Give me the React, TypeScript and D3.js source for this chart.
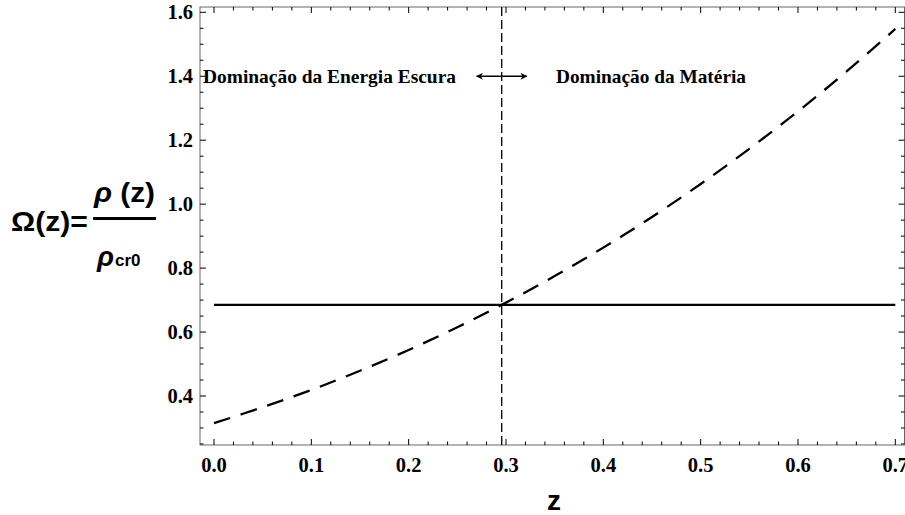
import React from "react";
import * as d3 from "d3";

const zValues = [0, 0.05, 0.1, 0.15, 0.2, 0.25, 0.3, 0.35, 0.4, 0.45, 0.5, 0.55, 0.6, 0.65, 0.7];
const matterOmega = [0.315, 0.365, 0.419, 0.479, 0.544, 0.615, 0.692, 0.775, 0.864, 0.96, 1.063, 1.173, 1.29, 1.415, 1.548];
const darkEnergyZ = [0, 0.7];
const darkEnergyOmega = [0.685, 0.685];
const crossingZ = 0.2956;
const xTicks = [0, 0.1, 0.2, 0.3, 0.4, 0.5, 0.6, 0.7];
const xTickLabels = ["0.0", "0.1", "0.2", "0.3", "0.4", "0.5", "0.6", "0.7"];
const yTicks = [0.4, 0.6, 0.8, 1.0, 1.2, 1.4, 1.6];
const yTickLabels = ["0.4", "0.6", "0.8", "1.0", "1.2", "1.4", "1.6"];
const annotationY = 1.4;
const leftLabel = "Dominação da Energia Escura";
const rightLabel = "Dominação da Matéria";

const W = 905;
const H = 515;
const frame = { left: 200, right: 904.5, top: 7, bottom: 445 };

export default function App() {
  const x = d3.scaleLinear().domain([0, 0.7]).range([214, 895.3]);
  const y = d3.scaleLinear().domain([0.4, 1.6]).range([396, 12.3]);

  const matterLine = d3
    .line<number>()
    .x((_, i) => x(zValues[i]))
    .y((d) => y(d))
    .curve(d3.curveCatmullRom)(matterOmega) as string;

  const deLine = d3
    .line<number>()
    .x((_, i) => x(darkEnergyZ[i]))
    .y((d) => y(d))(darkEnergyOmega) as string;

  const xMinor = d3.range(0, 0.7001, 0.02).map((v) => +v.toFixed(2)).filter((v) => !xTicks.some((t) => Math.abs(t - v) < 1e-6));
  const yMinor = d3.range(0.25, 1.6001, 0.05).map((v) => +v.toFixed(2)).filter((v) => !yTicks.some((t) => Math.abs(t - v) < 1e-6));

  const frameColor = "#666";
  const serif = "'Liberation Serif', 'Times New Roman', serif";
  const sans = "'Liberation Sans', Arial, sans-serif";
  const cx = x(crossingZ);
  const ay = y(annotationY);

  return (
    <svg width={W} height={H} style={{ position: "absolute", left: 0, top: 0, background: "#fff" }}>
      <defs>
        <marker id="ah" viewBox="0 0 10 10" refX="9" refY="5" markerWidth="10" markerHeight="7" markerUnits="userSpaceOnUse" orient="auto-start-reverse">
          <path d="M0,0 L10,5 L0,10 L3,5 Z" fill="#000" />
        </marker>
      </defs>
      <rect x={frame.left} y={frame.top} width={frame.right - frame.left} height={frame.bottom - frame.top} fill="none" stroke={frameColor} strokeWidth={1} />
      {xTicks.map((t) => (
        <g key={"xt" + t}>
          <line x1={x(t)} x2={x(t)} y1={frame.bottom} y2={frame.bottom - 6} stroke="#000" strokeWidth={1} />
          <line x1={x(t)} x2={x(t)} y1={frame.top} y2={frame.top + 6} stroke="#000" strokeWidth={1} />
        </g>
      ))}
      {xMinor.map((t) => (
        <g key={"xm" + t}>
          <line x1={x(t)} x2={x(t)} y1={frame.bottom} y2={frame.bottom - 3.5} stroke="#000" strokeWidth={1} />
          <line x1={x(t)} x2={x(t)} y1={frame.top} y2={frame.top + 3.5} stroke="#000" strokeWidth={1} />
        </g>
      ))}
      {yTicks.map((t) => (
        <g key={"yt" + t}>
          <line x1={frame.left} x2={frame.left + 6} y1={y(t)} y2={y(t)} stroke="#000" strokeWidth={1} />
          <line x1={frame.right} x2={frame.right - 6} y1={y(t)} y2={y(t)} stroke="#000" strokeWidth={1} />
        </g>
      ))}
      {yMinor.map((t) => (
        <g key={"ym" + t}>
          <line x1={frame.left} x2={frame.left + 3.5} y1={y(t)} y2={y(t)} stroke="#000" strokeWidth={1} />
          <line x1={frame.right} x2={frame.right - 3.5} y1={y(t)} y2={y(t)} stroke="#000" strokeWidth={1} />
        </g>
      ))}
      {xTicks.map((t, i) => (
        <text key={"xl" + t} x={x(t)} y={472} textAnchor="middle" fontFamily={serif} fontWeight="bold" fontSize={20.5}>
          {xTickLabels[i]}
        </text>
      ))}
      {yTicks.map((t, i) => (
        <text key={"yl" + t} x={193} y={y(t) + 7} textAnchor="end" fontFamily={serif} fontWeight="bold" fontSize={20.5}>
          {yTickLabels[i]}
        </text>
      ))}
      <path d={deLine} fill="none" stroke="#000" strokeWidth={2.3} />
      <path d={matterLine} fill="none" stroke="#000" strokeWidth={2.3} strokeDasharray="17,11" />
      <line x1={cx} x2={cx} y1={frame.top} y2={frame.bottom} stroke="#000" strokeWidth={1.3} strokeDasharray="9,4" />
      <text x={frame.left + 3} y={ay + 7} fontFamily={serif} fontWeight="bold" fontSize={19.5} textLength={253} lengthAdjust="spacingAndGlyphs">
        {leftLabel}
      </text>
      <text x={556} y={ay + 7} fontFamily={serif} fontWeight="bold" fontSize={19.5} textLength={190} lengthAdjust="spacingAndGlyphs">
        {rightLabel}
      </text>
      <line x1={cx - 25} x2={cx + 25} y1={ay} y2={ay} stroke="#000" strokeWidth={1.3} markerStart="url(#ah)" markerEnd="url(#ah)" />
      <text x={554} y={510} textAnchor="middle" fontFamily={sans} fontWeight="bold" fontSize={28}>
        z
      </text>
      <text x={11} y={231} fontFamily={sans} fontWeight="bold" fontSize={27} textLength={77} lengthAdjust="spacingAndGlyphs">
        Ω(z)=
      </text>
      <line x1={93} x2={156} y1={218.5} y2={218.5} stroke="#000" strokeWidth={3} />
      <text x={94} y={202} fontFamily={sans} fontWeight="bold" fontSize={27} textLength={61} lengthAdjust="spacingAndGlyphs">
        <tspan fontStyle="italic">ρ</tspan> (z)
      </text>
      <text x={97} y={266} fontFamily={sans} fontWeight="bold" fontSize={28}>
        <tspan fontStyle="italic">ρ</tspan>
        <tspan fontSize={17} dx={1}>cr0</tspan>
      </text>
    </svg>
  );
}
